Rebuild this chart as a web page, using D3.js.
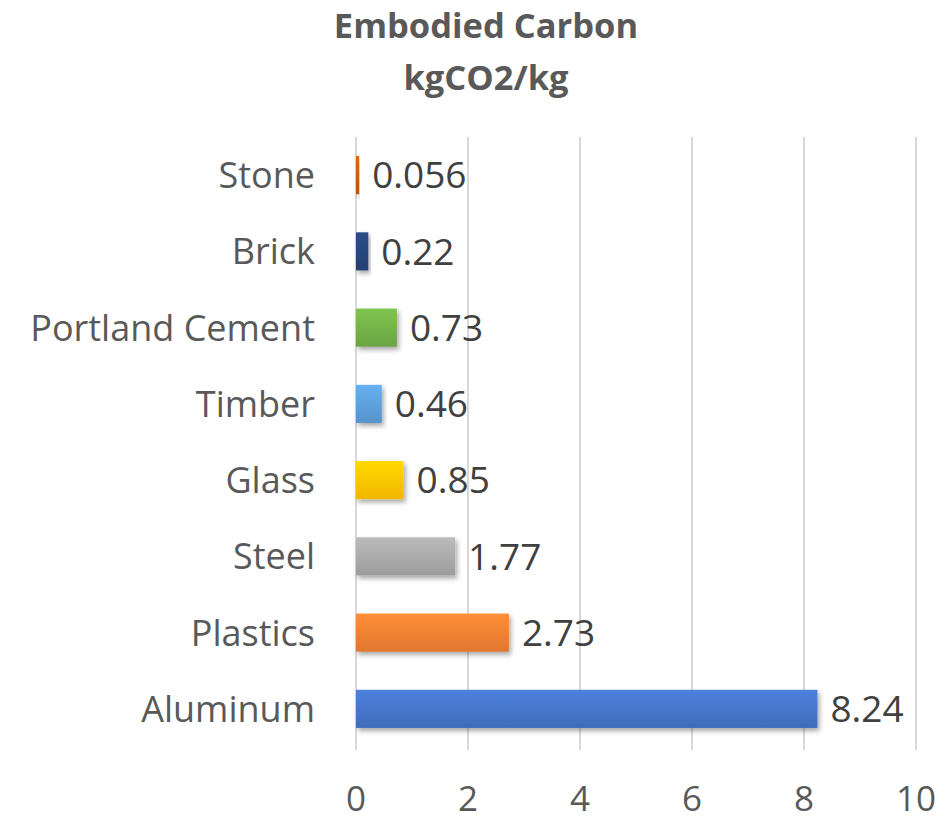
<!DOCTYPE html>
<html><head><meta charset="utf-8">
<script src="https://cdn.jsdelivr.net/npm/d3@7"></script>
<style>body{margin:0;background:#fff}</style>
</head><body>
<script>
const categories = ["Stone","Brick","Portland Cement","Timber","Glass","Steel","Plastics","Aluminum"];
const values = [0.056,0.22,0.73,0.46,0.85,1.77,2.73,8.24];
const labels = ["0.056","0.22","0.73","0.46","0.85","1.77","2.73","8.24"];
const colors = ["#c55a11","#264478","#70ad47","#5b9bd5","#ffc000","#a5a5a5","#ed7d31","#4472c4"];
const xTicks = [0,2,4,6,8,10];

const W=948,H=821;
const svg=d3.select("body").append("svg").attr("width",W).attr("height",H);
const font="'Open Sans', 'Noto Sans', sans-serif";
const x=d3.scaleLinear().domain([0,10]).range([356,916]);
const y=d3.scaleBand().domain(categories).range([137,747]).paddingInner(0.5).paddingOuter(0.25);

const defs=svg.append("defs");
colors.forEach((c,i)=>{
  const g=defs.append("linearGradient").attr("id","g"+i).attr("x1",0).attr("y1",0).attr("x2",0).attr("y2",1);
  g.append("stop").attr("offset","0%").attr("stop-color",d3.color(c).brighter(0.35));
  g.append("stop").attr("offset","100%").attr("stop-color",d3.color(c).darker(0.15));
});
const f=defs.append("filter").attr("id","sh").attr("x","-10%").attr("y","-20%").attr("width","130%").attr("height","160%");
f.append("feDropShadow").attr("dx",2).attr("dy",3).attr("stdDeviation",2.5).attr("flood-color","#000").attr("flood-opacity",0.35);

// gridlines
svg.append("g").selectAll("line").data(xTicks).join("line")
  .attr("x1",d=>x(d)).attr("x2",d=>x(d)).attr("y1",137).attr("y2",750)
  .attr("stroke","#d9d9d9").attr("stroke-width",2);

// bars
svg.append("g").selectAll("rect").data(values).join("rect")
  .attr("x",x(0)).attr("y",(d,i)=>y(categories[i]))
  .attr("width",d=>x(d)-x(0)).attr("height",y.bandwidth())
  .attr("fill",(d,i)=>`url(#g${i})`).attr("filter","url(#sh)");

// data labels
svg.append("g").selectAll("text").data(values).join("text")
  .attr("x",d=>x(d)+13).attr("y",(d,i)=>y(categories[i])+y.bandwidth()/2)
  .attr("dy","0.36em").attr("font-family",font).attr("font-size",37)
  .attr("fill","#404040").text((d,i)=>labels[i]);

// category labels
svg.append("g").selectAll("text").data(categories).join("text")
  .attr("x",315).attr("y",d=>y(d)+y.bandwidth()/2).attr("dy","0.36em")
  .attr("text-anchor","end").attr("font-family",font).attr("font-size",36)
  .attr("fill","#595959").text(d=>d);

// x axis labels
svg.append("g").selectAll("text").data(xTicks).join("text")
  .attr("x",d=>x(d)).attr("y",811).attr("text-anchor","middle")
  .attr("font-family",font).attr("font-size",35).attr("fill","#595959").text(d=>d);

// title
svg.append("text").attr("x",486).attr("y",38).attr("text-anchor","middle")
  .attr("font-family",font).attr("font-weight","bold").attr("font-size",34.5).attr("fill","#595959").text("Embodied Carbon");
svg.append("text").attr("x",486).attr("y",90).attr("text-anchor","middle")
  .attr("font-family",font).attr("font-weight","bold").attr("font-size",34.5).attr("fill","#595959").text("kgCO2/kg");
</script>
</body></html>
